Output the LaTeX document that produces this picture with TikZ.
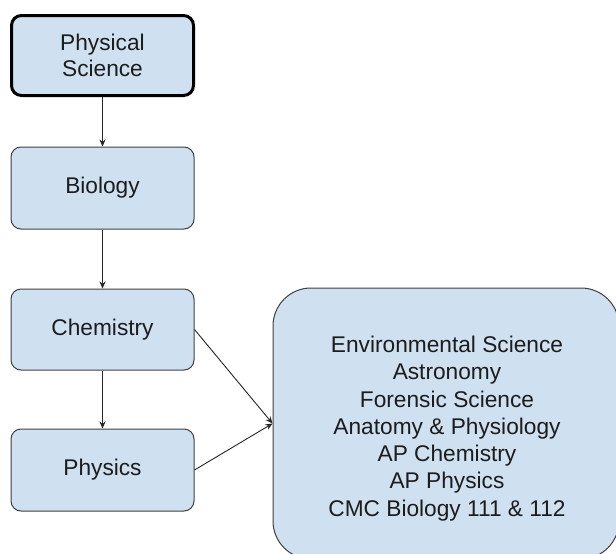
\documentclass[tikz,border=0pt]{standalone}
\usepackage{fontspec}
\setmainfont{Liberation Sans}
\usetikzlibrary{arrows.meta}
\definecolor{boxfill}{HTML}{CFE0F1}
\definecolor{boxline}{HTML}{404040}
\definecolor{txt}{HTML}{1C1C1C}
\tikzset{
  x=1pt, y=-1pt,
  course/.style={draw=boxline, line width=1pt, fill=boxfill, rounded corners=10pt,
    minimum width=183pt, minimum height=82pt, inner sep=0pt, align=center,
    text=txt, font=\fontsize{22.7}{26.5}\selectfont},
  conn/.style={draw=black!85, line width=0.9pt, -{Stealth[length=7pt,width=6pt]}},
}
\begin{document}
\begin{tikzpicture}
\useasboundingbox (0,0) rectangle (616,554);
\fill[white] (0,0) rectangle (616,554);
\clip (0,0) rectangle (616,554);
\node[course, draw=black, line width=3pt, minimum width=182pt, minimum height=80pt] (phys) at (102.5,55.5) {Physical\\Science};
\node[course] (bio) at (102.5,188) {Biology};
\node[course, minimum height=81pt] (chem) at (102.5,329.5) {Chemistry};
\node[course] (physics) at (102.5,470) {Physics};
\node[course, rounded corners=38pt, minimum width=346pt, minimum height=271pt] (adv) at (446,423.5) {};
\node[align=center, text=txt, inner sep=0pt, font=\fontsize{22.7}{27.3}\selectfont] (advtext) at (447,428.5)
  {Environmental Science\\Astronomy\\Forensic Science\\Anatomy \& Physiology\\AP Chemistry\\AP Physics\\CMC Biology 111 \& 112};
\draw[conn] (phys) -- (bio);
\draw[conn] (bio) -- (chem);
\draw[conn] (chem) -- (physics);
\draw[conn] (chem.east) -- (adv.west);
\draw[conn] (physics.east) -- (adv.west);
\end{tikzpicture}
\end{document}
